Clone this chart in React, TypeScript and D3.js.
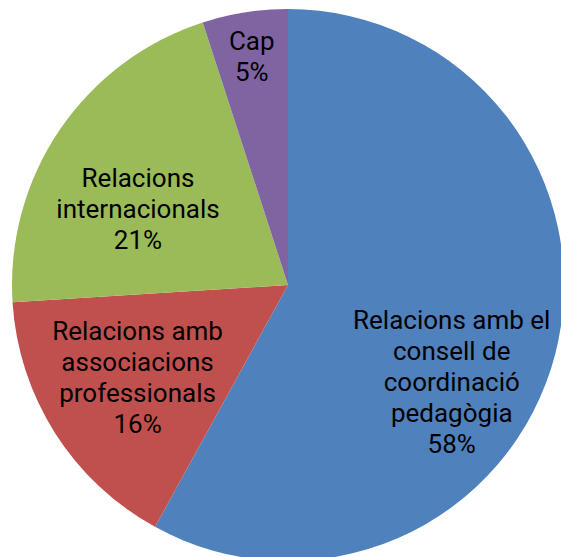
import React, { useEffect, useRef } from "react";
import * as d3 from "d3";

const categories = [
  "Relacions amb el consell de coordinació pedagògia",
  "Relacions amb associacions professionals",
  "Relacions internacionals",
  "Cap",
];
const values = [58, 16, 21, 5];
const labelLines = [
  ["Relacions amb el", "consell de", "coordinació", "pedagògia"],
  ["Relacions amb", "associacions", "professionals"],
  ["Relacions", "internacionals"],
  ["Cap"],
];
const colors = ["#4F81BD", "#C0504D", "#9BBB59", "#8064A2"];

// label nudges: extra angle (deg) and radius as fraction of pie radius
const labelPlace = [
  { da: 16.3, rf: 0.69 },
  { da: 0.8, rf: 0.64 },
  { da: -7.2, rf: 0.61 },
  { da: 0, rf: 0.84 },
];

export default function App() {
  const ref = useRef<SVGSVGElement>(null);
  const width = 561;
  const height = 557;
  const cx = 288;
  const cy = 285;
  const radius = 276;
  const lineH = 31;

  useEffect(() => {
    const svg = d3.select(ref.current);
    svg.selectAll("*").remove();

    const data = categories.map((c, i) => ({ name: c, value: values[i], i }));
    const pie = d3.pie<any>().sort(null).value((d) => d.value);
    const arcs = pie(data);
    const arc = d3.arc<any>().innerRadius(0).outerRadius(radius);

    const g = svg.append("g").attr("transform", `translate(${cx},${cy})`);

    g.selectAll("path")
      .data(arcs)
      .enter()
      .append("path")
      .attr("d", arc)
      .attr("fill", (d) => colors[d.data.i]);

    arcs.forEach((a) => {
      const i = a.data.i;
      const mid = (a.startAngle + a.endAngle) / 2 + (labelPlace[i].da * Math.PI) / 180;
      const r = radius * labelPlace[i].rf;
      const x = Math.sin(mid) * r;
      const y = -Math.cos(mid) * r;
      const lines = [...labelLines[i], `${values[i]}%`];
      const t = g
        .append("text")
        .attr("text-anchor", "middle")
        .attr("font-family", "Roboto, sans-serif")
        .attr("font-size", 26)
        .attr("fill", "#000");
      lines.forEach((ln, k) => {
        t.append("tspan")
          .attr("x", x)
          .attr("y", y + (k - (lines.length - 1) / 2) * lineH)
          .attr("dominant-baseline", "central")
          .text(ln);
      });
    });
  }, []);

  return (
    <svg
      ref={ref}
      width={width}
      height={height}
      style={{ position: "absolute", left: 0, top: 0, background: "#fff" }}
    />
  );
}
